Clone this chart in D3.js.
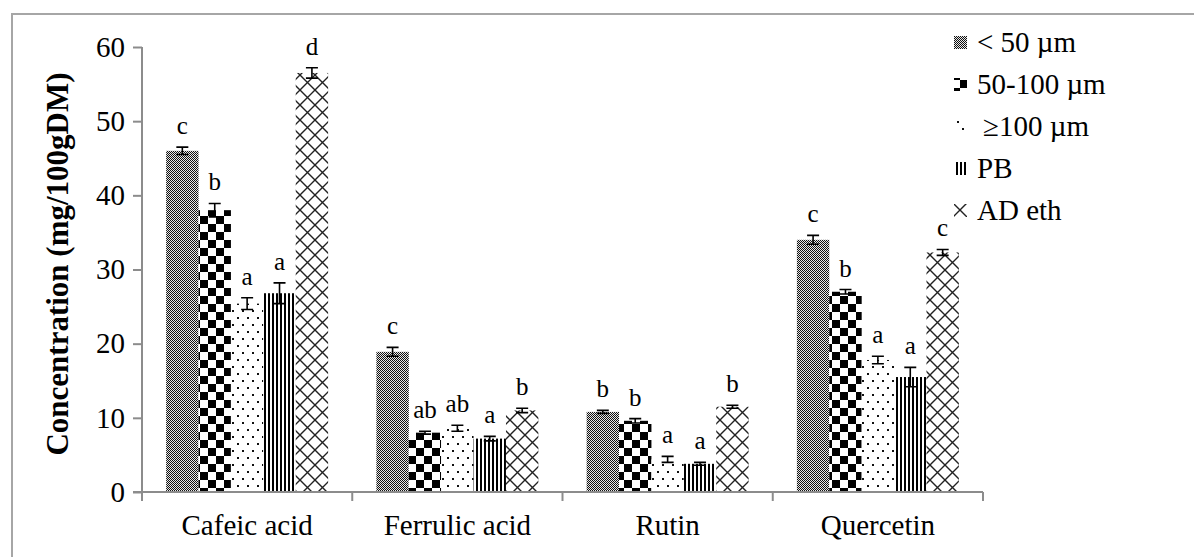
<!DOCTYPE html>
<html>
<head>
<meta charset="utf-8">
<script src="https://cdn.jsdelivr.net/npm/d3@7"></script>
<style>
    body { margin: 0; background: white; }
    text { font-family: "Liberation Serif", "Times New Roman", serif; fill: #000; }
</style>
</head>
<body>
<div id="chart"></div>
<script>
//Chart data.
var categories = ['Cafeic acid', 'Ferrulic acid', 'Rutin', 'Quercetin'];
var seriesNames = ['< 50 \u00b5m', '50-100 \u00b5m', '\u2265100 \u00b5m', 'PB', 'AD eth'];
var below50 = [46.0, 18.9, 10.8, 34.0];
var from50to100 = [38.0, 8.0, 9.6, 27.0];
var above100 = [25.4, 8.6, 4.4, 17.8];
var pb = [26.8, 7.2, 3.8, 15.5];
var adEth = [56.5, 11.0, 11.5, 32.3];
var errBelow50 = [0.5, 0.6, 0.2, 0.6];
var err50to100 = [0.9, 0.2, 0.3, 0.3];
var errAbove100 = [0.8, 0.4, 0.4, 0.5];
var errPb = [1.4, 0.3, 0.2, 1.3];
var errAdEth = [0.7, 0.3, 0.2, 0.4];
var lettersBelow50 = ['c', 'c', 'b', 'c'];
var letters50to100 = ['b', 'ab', 'b', 'b'];
var lettersAbove100 = ['a', 'ab', 'a', 'a'];
var lettersPb = ['a', 'a', 'a', 'a'];
var lettersAdEth = ['d', 'b', 'b', 'c'];
var yTicks = [0, 10, 20, 30, 40, 50, 60];

var allValues = [below50, from50to100, above100, pb, adEth];
var allErrors = [errBelow50, err50to100, errAbove100, errPb, errAdEth];
var allLetters = [lettersBelow50, letters50to100, lettersAbove100, lettersPb, lettersAdEth];

var chartWidth = 1194;
var chartHeight = 557;
var plotLeft = 142, plotRight = 983, plotTop = 47, plotBottom = 492;

var svg = d3.select('#chart').append('svg')
    .attr('width', chartWidth)
    .attr('height', chartHeight);

//Fill patterns, one per series.
var defs = svg.append('defs');

//fine grey checker
var p0 = defs.append('pattern').attr('id', 'pat0').attr('patternUnits', 'userSpaceOnUse')
    .attr('width', 2).attr('height', 2);
p0.append('rect').attr('width', 2).attr('height', 2).attr('fill', '#e8e8e8');
p0.append('rect').attr('width', 1).attr('height', 1).attr('fill', '#111');
p0.append('rect').attr('x', 1).attr('y', 1).attr('width', 1).attr('height', 1).attr('fill', '#111');

//large checkerboard
var p1 = defs.append('pattern').attr('id', 'pat1').attr('patternUnits', 'userSpaceOnUse')
    .attr('width', 16).attr('height', 16);
p1.append('rect').attr('width', 16).attr('height', 16).attr('fill', 'white');
p1.append('rect').attr('width', 8).attr('height', 8).attr('fill', 'black');
p1.append('rect').attr('x', 8).attr('y', 8).attr('width', 8).attr('height', 8).attr('fill', 'black');

//sparse dots
var p2 = defs.append('pattern').attr('id', 'pat2').attr('patternUnits', 'userSpaceOnUse')
    .attr('width', 10).attr('height', 14);
p2.append('rect').attr('width', 10).attr('height', 14).attr('fill', 'white');
p2.append('rect').attr('x', 2).attr('y', 2).attr('width', 2).attr('height', 2).attr('fill', '#111');
p2.append('rect').attr('x', 7).attr('y', 9).attr('width', 2).attr('height', 2).attr('fill', '#111');

//vertical lines
var p3 = defs.append('pattern').attr('id', 'pat3').attr('patternUnits', 'userSpaceOnUse')
    .attr('width', 4).attr('height', 4);
p3.append('rect').attr('width', 4).attr('height', 4).attr('fill', 'white');
p3.append('rect').attr('width', 2).attr('height', 4).attr('fill', 'black');

//diagonal cross hatch
var p4 = defs.append('pattern').attr('id', 'pat4').attr('patternUnits', 'userSpaceOnUse')
    .attr('width', 15).attr('height', 15);
p4.append('rect').attr('width', 15).attr('height', 15).attr('fill', 'white');
p4.append('path').attr('d', 'M0,0L15,15M15,0L0,15')
    .attr('stroke', '#222').attr('stroke-width', 1.4).attr('fill', 'none');

//Outer frame
svg.append('rect')
    .attr('x', 12).attr('y', 14)
    .attr('width', chartWidth).attr('height', chartHeight)
    .style('fill', 'none')
    .style('stroke', '#a6a6a6')
    .style('stroke-width', 2);

//Scales
var x0 = d3.scaleBand().domain(categories).range([plotLeft, plotRight]);
var x1 = d3.scaleBand().domain(d3.range(seriesNames.length))
    .range([0, x0.bandwidth()]).paddingOuter(0.745);
var y = d3.scaleLinear().domain([0, 60]).range([plotBottom, plotTop]);

//Bars, error bars and letters
for (var s = 0; s < seriesNames.length; s++) {
    for (var c = 0; c < categories.length; c++) {
        var bx = x0(categories[c]) + x1(s);
        var bw = x1.bandwidth();
        var v = allValues[s][c];
        var e = allErrors[s][c];
        svg.append('rect')
            .attr('x', bx)
            .attr('y', y(v))
            .attr('width', bw)
            .attr('height', y(0) - y(v))
            .style('fill', 'url(#pat' + s + ')');

        var cx = bx + bw / 2;
        svg.append('path')
            .attr('d', 'M' + cx + ',' + y(v + e) + 'V' + y(v - e) +
                'M' + (cx - 6) + ',' + y(v + e) + 'H' + (cx + 6) +
                'M' + (cx - 6) + ',' + y(v - e) + 'H' + (cx + 6))
            .style('stroke', 'black')
            .style('stroke-width', 1.6)
            .style('fill', 'none');

        svg.append('text')
            .attr('x', cx)
            .attr('y', y(v + e) - 13)
            .attr('text-anchor', 'middle')
            .style('font-size', '25px')
            .text(allLetters[s][c]);
    }
}

//Y axis
var yAxis = svg.append('g')
    .attr('transform', 'translate(' + plotLeft + ',0)')
    .call(d3.axisLeft(y).tickValues(yTicks).tickSize(9).tickPadding(8));
yAxis.selectAll('text').style('font-size', '29px').style('font-family', '"Liberation Serif", serif');

//X axis with ticks on the category boundaries
var xAxis = svg.append('g')
    .attr('transform', 'translate(0,' + plotBottom + ')')
    .call(d3.axisBottom(x0).tickSize(0).tickPadding(22));
xAxis.selectAll('text').style('font-size', '29px').style('font-family', '"Liberation Serif", serif');
xAxis.selectAll('.tick').append('line')
    .attr('x1', -x0.bandwidth() / 2).attr('x2', -x0.bandwidth() / 2)
    .attr('y2', 9);
xAxis.append('line')
    .attr('x1', plotRight).attr('x2', plotRight)
    .attr('y2', 9);

svg.selectAll('.domain, .tick line, g > line')
    .style('stroke', '#8c8c8c')
    .style('stroke-width', 2);
xAxis.select('.domain').attr('d', 'M' + (plotLeft - 9) + ',0H' + plotRight);
yAxis.select('.domain').attr('d', 'M0,' + plotTop + 'V' + (plotBottom + 9));

//Axis title
svg.append('text')
    .attr('transform', 'translate(68,264) rotate(-90)')
    .attr('text-anchor', 'middle')
    .style('font-size', '31px')
    .style('font-weight', 'bold')
    .text('Concentration (mg/100gDM)');

//Legend
var legendY = [42, 84, 126, 168, 210];
for (var i = 0; i < seriesNames.length; i++) {
    svg.append('rect')
        .attr('x', 954).attr('y', legendY[i] - 6)
        .attr('width', 13).attr('height', 13)
        .style('fill', 'url(#pat' + i + ')');
    svg.append('text')
        .attr('x', i === 2 ? 983 : 977)
        .attr('y', legendY[i])
        .attr('dy', '0.35em')
        .style('font-size', '29px')
        .text(seriesNames[i]);
}
</script>
</body>
</html>
